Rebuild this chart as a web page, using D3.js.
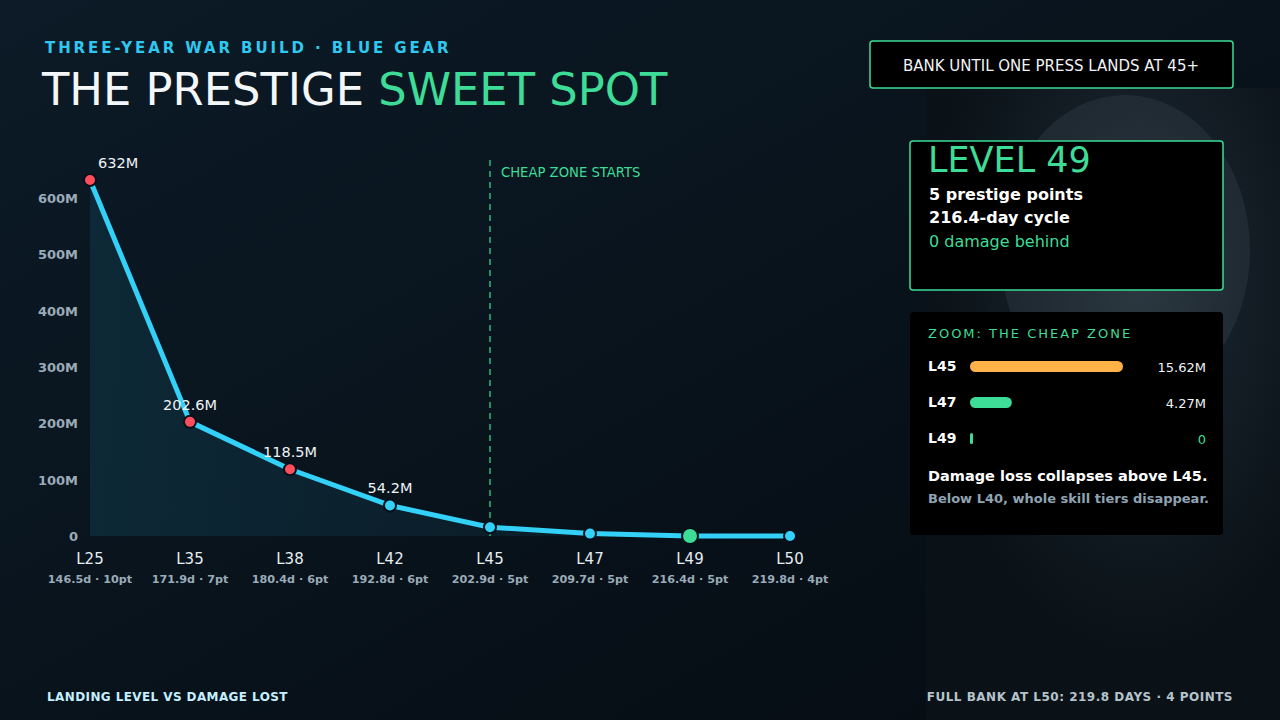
<!DOCTYPE html>
<html>
<head>
<meta charset="utf-8">
<script src="https://cdn.jsdelivr.net/npm/d3@7"></script>
<style>
  html, body { margin: 0; padding: 0; background: #08131c; }
  svg { display: block; font-family: "DejaVu Sans", sans-serif; }
</style>
</head>
<body>
<svg id="chart" width="1280" height="720"></svg>
<script>
let levels = ["L25", "L35", "L38", "L42", "L45", "L47", "L49", "L50"];
let subLabels = ["146.5d · 10pt", "171.9d · 7pt", "180.4d · 6pt", "192.8d · 6pt",
                 "202.9d · 5pt", "209.7d · 5pt", "216.4d · 5pt", "219.8d · 4pt"];
let damageLost = [632, 202.6, 118.5, 54.2, 15.62, 4.27, 0, 0]; // millions
let pointLabels = ["632M", "202.6M", "118.5M", "54.2M", "", "", "", ""];
let yTicks = [0, 100, 200, 300, 400, 500, 600];

let zoomLevels = ["L45", "L47", "L49"];
let zoomValues = [15.62, 4.27, 0];
let zoomValueLabels = ["15.62M", "4.27M", "0"];

let cyan = "#33d1f7";
let green = "#3ddc97";
let red = "#ff4d5e";
let orange = "#ffb347";
let grey = "#9aabb8";

let svg = d3.select("#chart");
let defs = svg.append("defs");

// background
let bg = defs.append("linearGradient").attr("id", "bg")
  .attr("x1", 0).attr("y1", 0).attr("x2", 1).attr("y2", 1);
bg.append("stop").attr("offset", "0%").attr("stop-color", "#0c1b27");
bg.append("stop").attr("offset", "100%").attr("stop-color", "#050b11");
svg.append("rect").attr("width", 1280).attr("height", 720).attr("fill", "url(#bg)");

// photo-ish panel on the right
let photo = defs.append("radialGradient").attr("id", "photo")
  .attr("cx", 0.6).attr("cy", 0.3).attr("r", 0.6);
photo.append("stop").attr("offset", "0%").attr("stop-color", "#26323a");
photo.append("stop").attr("offset", "45%").attr("stop-color", "#151f27");
photo.append("stop").attr("offset", "100%").attr("stop-color", "#0a1117");
svg.append("rect").attr("x", 926).attr("y", 88).attr("width", 354).attr("height", 632)
  .attr("fill", "url(#photo)");
svg.append("ellipse").attr("cx", 1125).attr("cy", 250).attr("rx", 125).attr("ry", 155)
  .attr("fill", "#3a4a54").attr("opacity", 0.3);

// headings
svg.append("text").attr("x", 45).attr("y", 53)
  .attr("fill", "#2fc8f0").attr("font-size", 15).attr("font-weight", "bold")
  .attr("letter-spacing", 2.9)
  .text("THREE-YEAR WAR BUILD · BLUE GEAR");
let title = svg.append("text").attr("x", 42).attr("y", 105).attr("font-size", 44.8);
title.append("tspan").attr("fill", "#f4f7f9").text("THE PRESTIGE ");
title.append("tspan").attr("fill", green).text("SWEET SPOT");

// scales
let x = d3.scalePoint().domain(levels).range([90, 790]);
let y = d3.scaleLinear().domain([0, 600]).range([536, 198]);

// y axis labels
svg.append("g").selectAll("text").data(yTicks).join("text")
  .attr("x", 78).attr("y", d => y(d) + 5)
  .attr("text-anchor", "end").attr("fill", grey)
  .attr("font-size", 13).attr("font-weight", "bold")
  .text(d => d === 0 ? "0" : d + "M");

// area
let areaGrad = defs.append("linearGradient").attr("id", "areaGrad")
  .attr("x1", 0).attr("y1", 0).attr("x2", 1).attr("y2", 0);
areaGrad.append("stop").attr("offset", "0%").attr("stop-color", "#0d2a38").attr("stop-opacity", 0.9);
areaGrad.append("stop").attr("offset", "100%").attr("stop-color", "#0d2a38").attr("stop-opacity", 0.2);
let area = d3.area().x((d, i) => x(levels[i])).y0(y(0)).y1(d => y(d));
svg.append("path").datum(damageLost).attr("d", area).attr("fill", "url(#areaGrad)");

// cheap zone marker
svg.append("line").attr("x1", x("L45")).attr("x2", x("L45"))
  .attr("y1", 160).attr("y2", y(0))
  .attr("stroke", "#2eb87a").attr("stroke-width", 1.5).attr("stroke-dasharray", "6,5");
svg.append("text").attr("x", x("L45") + 11).attr("y", 177)
  .attr("fill", green).attr("font-size", 13.2).text("CHEAP ZONE STARTS");

// line
let line = d3.line().x((d, i) => x(levels[i])).y(d => y(d));
svg.append("path").datum(damageLost).attr("d", line)
  .attr("fill", "none").attr("stroke", cyan).attr("stroke-width", 5)
  .attr("stroke-linejoin", "round");

// points
function pointColor(i) {
  if (levels[i] === "L49") return green;
  if (damageLost[i] > 100) return red;
  return cyan;
}
svg.append("g").selectAll("circle").data(damageLost).join("circle")
  .attr("cx", (d, i) => x(levels[i])).attr("cy", d => y(d))
  .attr("r", (d, i) => levels[i] === "L49" ? 8 : 6)
  .attr("fill", (d, i) => pointColor(i))
  .attr("stroke", "#06101a").attr("stroke-width", 2);

// value labels
svg.append("g").selectAll("text").data(damageLost).join("text")
  .attr("x", (d, i) => i === 0 ? x(levels[i]) + 8 : x(levels[i]))
  .attr("y", d => y(d) - 12)
  .attr("text-anchor", (d, i) => i === 0 ? "start" : "middle")
  .attr("fill", "#eef3f6").attr("font-size", 14.5)
  .text((d, i) => pointLabels[i]);

// x labels
svg.append("g").selectAll("text").data(levels).join("text")
  .attr("x", d => x(d)).attr("y", 564)
  .attr("text-anchor", "middle").attr("fill", "#e6edf1").attr("font-size", 15)
  .text(d => d);
svg.append("g").selectAll("text").data(subLabels).join("text")
  .attr("x", (d, i) => x(levels[i])).attr("y", 583)
  .attr("text-anchor", "middle").attr("fill", grey)
  .attr("font-size", 11.2).attr("font-weight", "bold")
  .text(d => d);

// top-right callout
svg.append("rect").attr("x", 870).attr("y", 41).attr("width", 363).attr("height", 47)
  .attr("rx", 3).attr("fill", "#000").attr("stroke", green).attr("stroke-width", 1.5);
svg.append("text").attr("x", 1051).attr("y", 71).attr("text-anchor", "middle")
  .attr("fill", "#eef3f6").attr("font-size", 15)
  .text("BANK UNTIL ONE PRESS LANDS AT 45+");

// level card
svg.append("rect").attr("x", 910).attr("y", 141).attr("width", 313).attr("height", 149)
  .attr("rx", 3).attr("fill", "#000").attr("stroke", green).attr("stroke-width", 1.5);
svg.append("text").attr("x", 928).attr("y", 172).attr("fill", green).attr("font-size", 35)
  .text("LEVEL 49");
svg.append("text").attr("x", 929).attr("y", 200).attr("fill", "#fff")
  .attr("font-size", 16).attr("font-weight", "bold").text("5 prestige points");
svg.append("text").attr("x", 929).attr("y", 223).attr("fill", "#fff")
  .attr("font-size", 16).attr("font-weight", "bold").text("216.4-day cycle");
svg.append("text").attr("x", 929).attr("y", 247).attr("fill", green)
  .attr("font-size", 16).text("0 damage behind");

// zoom card
svg.append("rect").attr("x", 910).attr("y", 312).attr("width", 313).attr("height", 223)
  .attr("rx", 4).attr("fill", "#000");
svg.append("text").attr("x", 928).attr("y", 338).attr("fill", green)
  .attr("font-size", 13).attr("letter-spacing", 2).text("ZOOM: THE CHEAP ZONE");

let zx = d3.scaleLinear().domain([0, 15.62]).range([0, 153]);
let zy = d3.scaleBand().domain(zoomLevels).range([348, 456]);
let zoomColors = [orange, green, green];
let rows = svg.append("g").selectAll("g").data(zoomLevels).join("g")
  .attr("transform", d => "translate(0," + (zy(d) + zy.bandwidth() / 2) + ")");
rows.append("text").attr("x", 928).attr("y", 5).attr("fill", "#fff")
  .attr("font-size", 14).attr("font-weight", "bold").text(d => d);
rows.append("rect").attr("x", 970).attr("y", -5)
  .attr("width", (d, i) => Math.max(zx(zoomValues[i]), 3)).attr("height", 11)
  .attr("rx", (d, i) => Math.min(5.5, Math.max(zx(zoomValues[i]), 3) / 2))
  .attr("fill", (d, i) => zoomColors[i]);
rows.append("text").attr("x", 1206).attr("y", 6).attr("text-anchor", "end")
  .attr("fill", (d, i) => zoomValues[i] === 0 ? green : "#eef3f6")
  .attr("font-size", 13).text((d, i) => zoomValueLabels[i]);

svg.append("text").attr("x", 928).attr("y", 481).attr("fill", "#fff")
  .attr("font-size", 14.5).attr("font-weight", "bold").text("Damage loss collapses above L45.");
svg.append("text").attr("x", 928).attr("y", 503).attr("fill", "#8fa3b3")
  .attr("font-size", 13).attr("font-weight", "bold").text("Below L40, whole skill tiers disappear.");

// footers
svg.append("text").attr("x", 47).attr("y", 701).attr("fill", "#c4f0ff")
  .attr("font-size", 12).attr("font-weight", "bold").attr("letter-spacing", 0.4)
  .text("LANDING LEVEL VS DAMAGE LOST");
svg.append("text").attr("x", 1233).attr("y", 701).attr("text-anchor", "end").attr("fill", "#b5c3cc")
  .attr("font-size", 12).attr("font-weight", "bold").attr("letter-spacing", 0.5)
  .text("FULL BANK AT L50: 219.8 DAYS · 4 POINTS");
</script>
</body>
</html>
